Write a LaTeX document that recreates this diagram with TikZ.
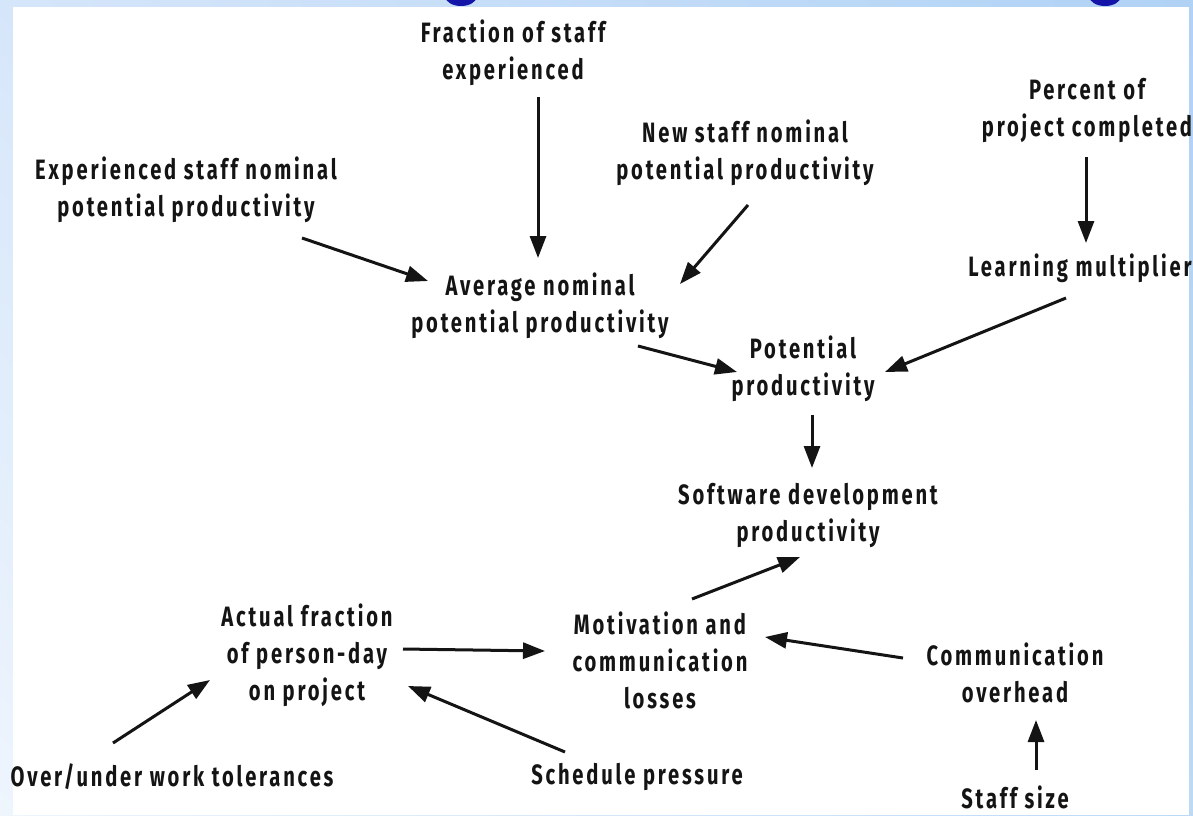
\documentclass[tikz,border=0pt]{standalone}
\usepackage{fontspec}
\setmainfont{Fira Sans}[FakeStretch=0.72,LetterSpace=10]
\usetikzlibrary{arrows.meta,calc,shadings}
\definecolor{ink}{HTML}{141414}
\definecolor{titleblue}{HTML}{1414A8}
\definecolor{frameUL}{RGB}{214,230,250}
\definecolor{frameUR}{RGB}{176,210,245}
\definecolor{frameLL}{RGB}{238,245,253}
\definecolor{frameLR}{RGB}{188,217,246}
\begin{document}
\begin{tikzpicture}[x=1pt,y=-1pt,
  lbl/.style={inner sep=0pt,align=center,text=ink,
    font=\bfseries\fontsize{28}{37}\selectfont},
  arr/.style={draw=ink,line width=3pt,
    -{Triangle[length=22pt,width=16pt]}},
  titlestroke/.style={fill=titleblue,even odd rule}]
% page background with light blue frame
\useasboundingbox (0,0) rectangle (1193,815);
\shade[upper left=frameUL,upper right=frameUR,
       lower left=frameLL,lower right=frameLR]
  (0,0) rectangle (1193,815);
% lower bowls of the large blue title letters above the panel
\begin{scope}
  \clip (0,0) rectangle (1193,7);
  \fill[titlestroke] (461,-4) ellipse [x radius=16pt,y radius=10pt]
                     (461,-6) ellipse [x radius=8pt,y radius=6pt];
  \fill[titlestroke] (1105,-4) ellipse [x radius=16pt,y radius=10pt]
                     (1105,-6) ellipse [x radius=8pt,y radius=6pt];
\end{scope}
\fill[white] (13,7) rectangle (1189,815);

% variables
\node[lbl] (frac) at (513,53)  {Fraction of staff\\experienced};
\node[lbl] (newst) at (745,153) {New staff nominal\\potential productivity};
\node[lbl] (pct) at (1087,110) {Percent of\\project completed};
\node[lbl] (exp) at (186,190) {Experienced staff nominal\\potential productivity};
\node[lbl] (avg) at (540,306) {Average nominal\\potential productivity};
\node[lbl] (learn) at (1080,268) {Learning multiplier};
\node[lbl] (pot) at (803,369) {Potential\\productivity};
\node[lbl] (sdp) at (808,515) {Software development\\productivity};
\node[lbl] (act) at (307,655) {Actual fraction\\of person-day\\on project};
\node[lbl] (mot) at (660,660) {Motivation and\\communication\\losses};
\node[lbl] (comm) at (1015,673) {Communication\\overhead};
\node[lbl] (over) at (172,777) {Over/under work tolerances};
\node[lbl] (sched) at (637,777) {Schedule pressure};
\node[lbl] (staff) at (1015,797) {Staff size};

% causal links
\draw[arr] ($(frac)+(25,44)$) -- ($(avg)+(-2,-48)$);
\draw[arr] ($(newst)+(3,52)$) -- ($(avg)+(140,-22)$);
\draw[arr] ($(exp)+(116,48)$) -- ($(avg)+(-112,-25)$);
\draw[arr] ($(pct)+(-1,47)$) -- ($(learn)+(6,-25)$);
\draw[arr] ($(avg)+(98,40)$) -- ($(pot)+(-66,3)$);
\draw[arr] ($(learn)+(-14,30)$) -- ($(pot)+(82,3)$);
\draw[arr] ($(pot)+(9,46)$) -- ($(sdp)+(4,-47)$);
\draw[arr] ($(mot)+(32,-61)$) -- ($(sdp)+(-8,42)$);
\draw[arr] ($(act)+(96,-6)$) -- ($(mot)+(-115,-9)$);
\draw[arr] ($(comm)+(-112,-15)$) -- ($(mot)+(105,-23)$);
\draw[arr] ($(staff)+(21,-27)$) -- ($(comm)+(21,47)$);
\draw[arr] ($(over)+(-59,-34)$) -- ($(act)+(-97,25)$);
\draw[arr] ($(sched)+(-72,-25)$) -- ($(act)+(101,31)$);
\end{tikzpicture}
\end{document}
